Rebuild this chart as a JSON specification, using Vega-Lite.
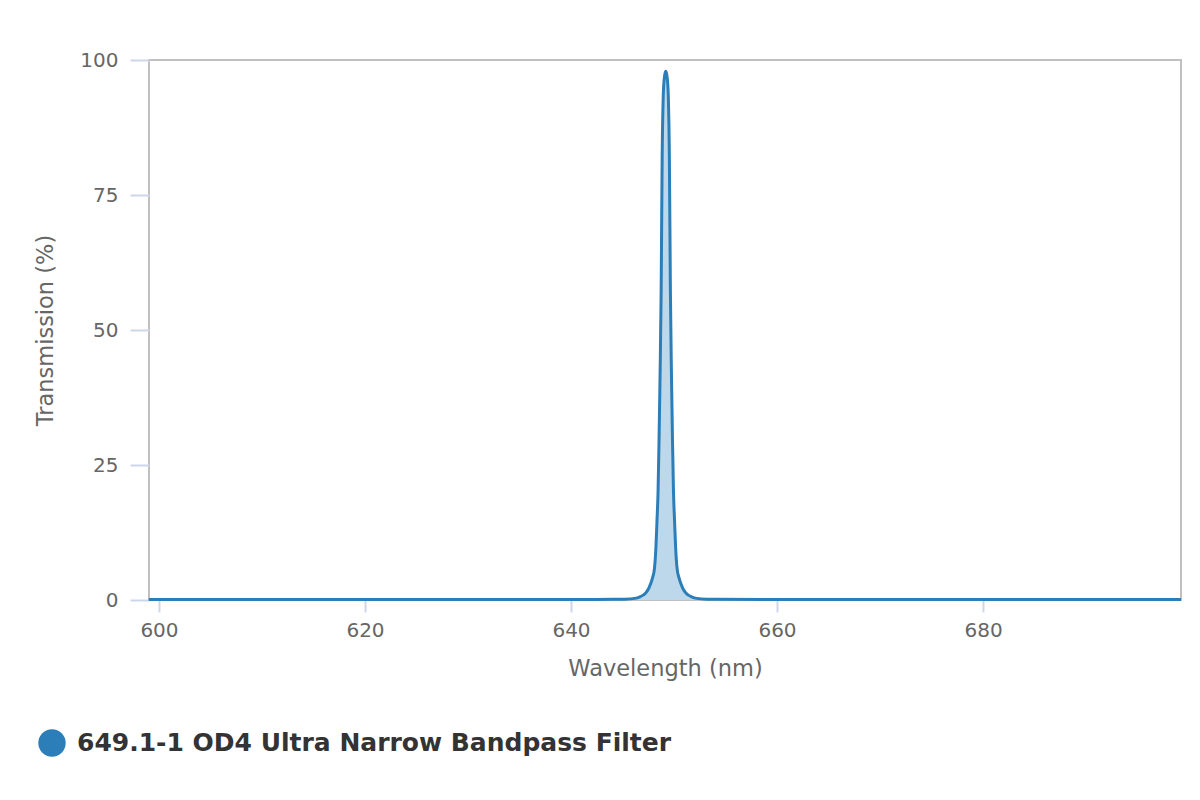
{
  "$schema": "https://vega.github.io/schema/vega-lite/v6.json",
  "autosize": "none",
  "width": 1032,
  "height": 540,
  "padding": {"left": 149, "top": 60, "right": 19, "bottom": 200},
  "background": "#ffffff",
  "config": {
    "view": {"stroke": "#c0c0c0", "strokeWidth": 2},
    "font": "DejaVu Sans",
    "axis": {
      "domain": false,
      "grid": false,
      "tickColor": "#ccd6eb",
      "tickWidth": 2,
      "labelColor": "#666666",
      "labelFontSize": 20,
      "labelFont": "DejaVu Sans",
      "titleColor": "#666666",
      "titleFontSize": 22.5,
      "titleFontWeight": "normal",
      "titleFont": "DejaVu Sans"
    }
  },
  "data": {
    "values": [
      {"wl": 599.0, "t": 0.1, "s": "649.1-1 OD4 Ultra Narrow Bandpass Filter"},
      {"wl": 610.0, "t": 0.1, "s": "649.1-1 OD4 Ultra Narrow Bandpass Filter"},
      {"wl": 620.0, "t": 0.1, "s": "649.1-1 OD4 Ultra Narrow Bandpass Filter"},
      {"wl": 630.0, "t": 0.1, "s": "649.1-1 OD4 Ultra Narrow Bandpass Filter"},
      {"wl": 640.0, "t": 0.1, "s": "649.1-1 OD4 Ultra Narrow Bandpass Filter"},
      {"wl": 644.2, "t": 0.12, "s": "649.1-1 OD4 Ultra Narrow Bandpass Filter"},
      {"wl": 645.2, "t": 0.15, "s": "649.1-1 OD4 Ultra Narrow Bandpass Filter"},
      {"wl": 646.2, "t": 0.3, "s": "649.1-1 OD4 Ultra Narrow Bandpass Filter"},
      {"wl": 646.7, "t": 0.6, "s": "649.1-1 OD4 Ultra Narrow Bandpass Filter"},
      {"wl": 647.0, "t": 0.9, "s": "649.1-1 OD4 Ultra Narrow Bandpass Filter"},
      {"wl": 647.3, "t": 1.4, "s": "649.1-1 OD4 Ultra Narrow Bandpass Filter"},
      {"wl": 647.6, "t": 2.4, "s": "649.1-1 OD4 Ultra Narrow Bandpass Filter"},
      {"wl": 647.9, "t": 4.0, "s": "649.1-1 OD4 Ultra Narrow Bandpass Filter"},
      {"wl": 648.1, "t": 5.8, "s": "649.1-1 OD4 Ultra Narrow Bandpass Filter"},
      {"wl": 648.25, "t": 10.0, "s": "649.1-1 OD4 Ultra Narrow Bandpass Filter"},
      {"wl": 648.35, "t": 14.8, "s": "649.1-1 OD4 Ultra Narrow Bandpass Filter"},
      {"wl": 648.45, "t": 20.0, "s": "649.1-1 OD4 Ultra Narrow Bandpass Filter"},
      {"wl": 648.55, "t": 30.0, "s": "649.1-1 OD4 Ultra Narrow Bandpass Filter"},
      {"wl": 648.65, "t": 42.0, "s": "649.1-1 OD4 Ultra Narrow Bandpass Filter"},
      {"wl": 648.75, "t": 57.0, "s": "649.1-1 OD4 Ultra Narrow Bandpass Filter"},
      {"wl": 648.85, "t": 82.0, "s": "649.1-1 OD4 Ultra Narrow Bandpass Filter"},
      {"wl": 648.95, "t": 93.0, "s": "649.1-1 OD4 Ultra Narrow Bandpass Filter"},
      {"wl": 649.05, "t": 96.5, "s": "649.1-1 OD4 Ultra Narrow Bandpass Filter"},
      {"wl": 649.15, "t": 97.7, "s": "649.1-1 OD4 Ultra Narrow Bandpass Filter"},
      {"wl": 649.2, "t": 97.9, "s": "649.1-1 OD4 Ultra Narrow Bandpass Filter"},
      {"wl": 649.25, "t": 97.7, "s": "649.1-1 OD4 Ultra Narrow Bandpass Filter"},
      {"wl": 649.35, "t": 96.5, "s": "649.1-1 OD4 Ultra Narrow Bandpass Filter"},
      {"wl": 649.45, "t": 93.0, "s": "649.1-1 OD4 Ultra Narrow Bandpass Filter"},
      {"wl": 649.55, "t": 82.0, "s": "649.1-1 OD4 Ultra Narrow Bandpass Filter"},
      {"wl": 649.65, "t": 57.0, "s": "649.1-1 OD4 Ultra Narrow Bandpass Filter"},
      {"wl": 649.75, "t": 42.0, "s": "649.1-1 OD4 Ultra Narrow Bandpass Filter"},
      {"wl": 649.85, "t": 30.0, "s": "649.1-1 OD4 Ultra Narrow Bandpass Filter"},
      {"wl": 649.95, "t": 20.0, "s": "649.1-1 OD4 Ultra Narrow Bandpass Filter"},
      {"wl": 650.05, "t": 14.8, "s": "649.1-1 OD4 Ultra Narrow Bandpass Filter"},
      {"wl": 650.15, "t": 10.0, "s": "649.1-1 OD4 Ultra Narrow Bandpass Filter"},
      {"wl": 650.3, "t": 5.8, "s": "649.1-1 OD4 Ultra Narrow Bandpass Filter"},
      {"wl": 650.5, "t": 4.0, "s": "649.1-1 OD4 Ultra Narrow Bandpass Filter"},
      {"wl": 650.8, "t": 2.4, "s": "649.1-1 OD4 Ultra Narrow Bandpass Filter"},
      {"wl": 651.1, "t": 1.4, "s": "649.1-1 OD4 Ultra Narrow Bandpass Filter"},
      {"wl": 651.4, "t": 0.9, "s": "649.1-1 OD4 Ultra Narrow Bandpass Filter"},
      {"wl": 651.7, "t": 0.6, "s": "649.1-1 OD4 Ultra Narrow Bandpass Filter"},
      {"wl": 652.2, "t": 0.3, "s": "649.1-1 OD4 Ultra Narrow Bandpass Filter"},
      {"wl": 653.2, "t": 0.15, "s": "649.1-1 OD4 Ultra Narrow Bandpass Filter"},
      {"wl": 654.2, "t": 0.12, "s": "649.1-1 OD4 Ultra Narrow Bandpass Filter"},
      {"wl": 660.0, "t": 0.1, "s": "649.1-1 OD4 Ultra Narrow Bandpass Filter"},
      {"wl": 670.0, "t": 0.1, "s": "649.1-1 OD4 Ultra Narrow Bandpass Filter"},
      {"wl": 680.0, "t": 0.1, "s": "649.1-1 OD4 Ultra Narrow Bandpass Filter"},
      {"wl": 690.0, "t": 0.1, "s": "649.1-1 OD4 Ultra Narrow Bandpass Filter"},
      {"wl": 699.22, "t": 0.1, "s": "649.1-1 OD4 Ultra Narrow Bandpass Filter"}
    ]
  },
  "encoding": {
    "x": {
      "field": "wl",
      "type": "quantitative",
      "scale": {"domain": [599.03, 699.22], "nice": false, "zero": false},
      "axis": {
        "values": [600, 620, 640, 660, 680],
        "title": "Wavelength (nm)",
        "tickSize": 12,
        "labelPadding": 8,
        "titlePadding": 17
      }
    },
    "y": {
      "field": "t",
      "type": "quantitative",
      "scale": {"domain": [0, 100], "nice": false},
      "axis": {
        "values": [0, 25, 50, 75, 100],
        "title": "Transmission (%)",
        "tickSize": 19,
        "labelPadding": 12,
        "titlePadding": 22
      }
    }
  },
  "layer": [
    {
      "mark": {"type": "area", "interpolate": "monotone", "color": "#bcd8ea", "opacity": 1}
    },
    {
      "mark": {"type": "line", "interpolate": "monotone", "strokeWidth": 3},
      "encoding": {
        "color": {
          "field": "s",
          "type": "nominal",
          "scale": {"range": ["#2b7eb8"]},
          "legend": {
            "title": null,
            "orient": "none",
            "legendX": -111,
            "legendY": 669,
            "padding": 0,
            "symbolType": "circle",
            "symbolSize": 750,
            "symbolFillColor": "#2b7eb8",
            "symbolStrokeColor": "#2b7eb8",
            "symbolStrokeWidth": 0,
            "labelFontSize": 25,
            "labelFontWeight": "bold",
            "labelColor": "#333333",
            "labelFont": "DejaVu Sans",
            "labelOffset": 11,
            "labelLimit": 1000
          }
        }
      }
    }
  ]
}
